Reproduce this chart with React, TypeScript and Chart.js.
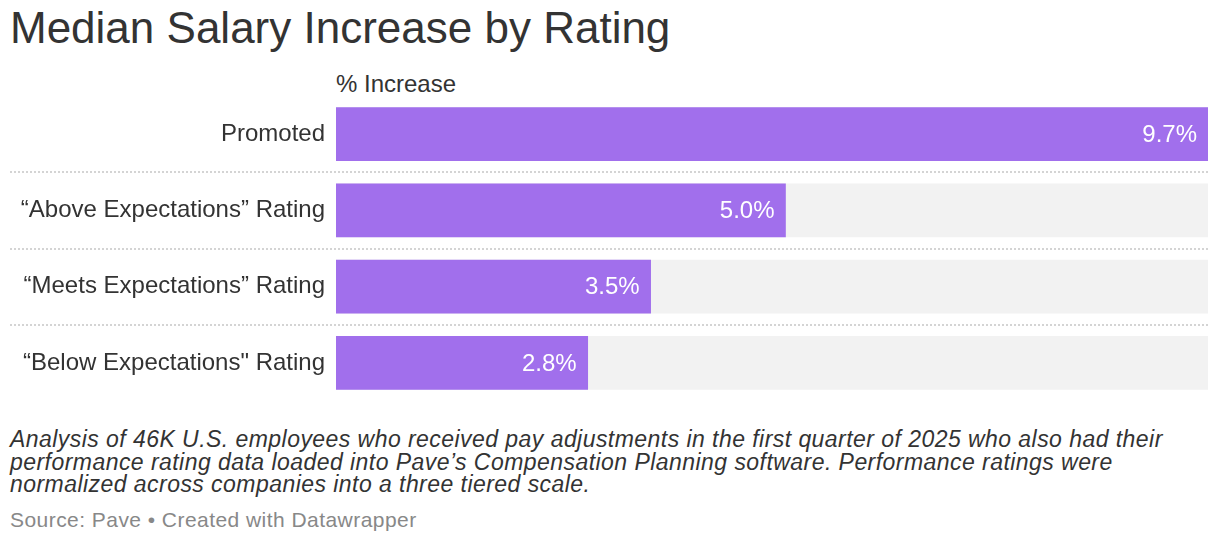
import { useEffect, useRef } from 'react';
import { Chart, registerables } from 'chart.js';

Chart.register(...registerables);

const FONT = '"Liberation Sans", Arial, Helvetica, sans-serif';

const categories = [
  'Promoted',
  '“Above Expectations” Rating',
  '“Meets Expectations” Rating',
  '“Below Expectations" Rating',
];
const increase = [9.7, 5.0, 3.5, 2.8];
const valueLabels = ['9.7%', '5.0%', '3.5%', '2.8%'];
const scaleMax = 9.7;
const track = [9.7, 9.7, 9.7, 9.7];

const title = 'Median Salary Increase by Rating';
const columnHeader = '% Increase';
const notes = [
  'Analysis of 46K U.S. employees who received pay adjustments in the first quarter of 2025 who also had their',
  'performance rating data loaded into Pave’s Compensation Planning software. Performance ratings were',
  'normalized across companies into a three tiered scale.',
];
const source = 'Source: Pave • Created with Datawrapper';

// dotted separators between rows, running under the labels too
const rowRules = {
  id: 'rowRules',
  beforeDatasetsDraw(chart: any) {
    const { ctx, chartArea, scales } = chart;
    const y = scales.y;
    ctx.save();
    ctx.strokeStyle = '#d4d4d4';
    ctx.lineWidth = 2;
    ctx.setLineDash([2, 2]);
    for (let i = 0; i < categories.length - 1; i++) {
      const yy = Math.round((y.getPixelForValue(i) + y.getPixelForValue(i + 1)) / 2);
      ctx.beginPath();
      ctx.moveTo(10, yy);
      ctx.lineTo(chartArea.right, yy);
      ctx.stroke();
    }
    ctx.restore();
  },
};

// value labels inside the end of each bar
const barValues = {
  id: 'barValues',
  afterDatasetsDraw(chart: any) {
    const { ctx } = chart;
    const meta = chart.getDatasetMeta(0);
    ctx.save();
    ctx.fillStyle = '#ffffff';
    ctx.font = `24px ${FONT}`;
    ctx.textAlign = 'right';
    ctx.textBaseline = 'middle';
    meta.data.forEach((bar: any, i: number) => {
      ctx.fillText(valueLabels[i], bar.x - 11, bar.y + 1);
    });
    ctx.restore();
  },
};

function SalaryChart() {
  const canvasRef = useRef<HTMLCanvasElement>(null);
  const chartRef = useRef<Chart | null>(null);

  useEffect(() => {
    if (!canvasRef.current) return;
    chartRef.current = new Chart(canvasRef.current, {
      type: 'bar',
      data: {
        labels: categories,
        datasets: [
          {
            label: 'Increase',
            data: increase,
            backgroundColor: '#a16fec',
            barThickness: 53,
            grouped: false,
          },
          {
            label: 'Track',
            data: track,
            backgroundColor: '#f2f2f2',
            barThickness: 53,
            grouped: false,
          },
        ],
      },
      options: {
        indexAxis: 'y',
        responsive: true,
        maintainAspectRatio: false,
        animation: false,
        layout: { padding: { left: 0, right: 12, top: 0, bottom: 0 } },
        plugins: {
          legend: { display: false },
          tooltip: { enabled: false },
        },
        scales: {
          x: { display: false, min: 0, max: scaleMax },
          y: {
            grid: { display: false, drawTicks: false },
            border: { display: false },
            ticks: {
              color: '#333333',
              padding: 11,
              font: { family: FONT, size: 24 },
            },
            afterFit: (scale: any) => {
              scale.width = 336;
              scale.paddingTop = 0;
              scale.paddingBottom = 0;
            },
          },
        },
      },
      plugins: [rowRules, barValues],
    });
    return () => { chartRef.current?.destroy(); };
  }, []);

  return (
    <div style={{ position: 'absolute', left: 0, top: 96, width: 1220, height: 305 }}>
      <canvas ref={canvasRef} />
    </div>
  );
}

export default function App() {
  return (
    <div style={{
      position: 'absolute', left: 0, top: 0, width: 1220, height: 544,
      background: '#ffffff', fontFamily: FONT, color: '#333333', overflow: 'hidden',
    }}>
      <div style={{ position: 'absolute', left: 10, top: 6, fontSize: 44, lineHeight: '44px', whiteSpace: 'nowrap' }}>
        {title}
      </div>
      <div style={{ position: 'absolute', left: 336, top: 72, fontSize: 24, lineHeight: '24px', whiteSpace: 'nowrap' }}>
        {columnHeader}
      </div>
      <SalaryChart />
      <div style={{
        position: 'absolute', left: 10, top: 428, fontSize: 23, lineHeight: '22.5px',
        letterSpacing: '0.45px', fontStyle: 'italic', whiteSpace: 'nowrap',
      }}>
        {notes.map((line) => <div key={line}>{line}</div>)}
      </div>
      <div style={{
        position: 'absolute', left: 10, top: 509, fontSize: 21, lineHeight: '22px',
        letterSpacing: '0.45px', color: '#888888', whiteSpace: 'nowrap',
      }}>
        {source}
      </div>
    </div>
  );
}
